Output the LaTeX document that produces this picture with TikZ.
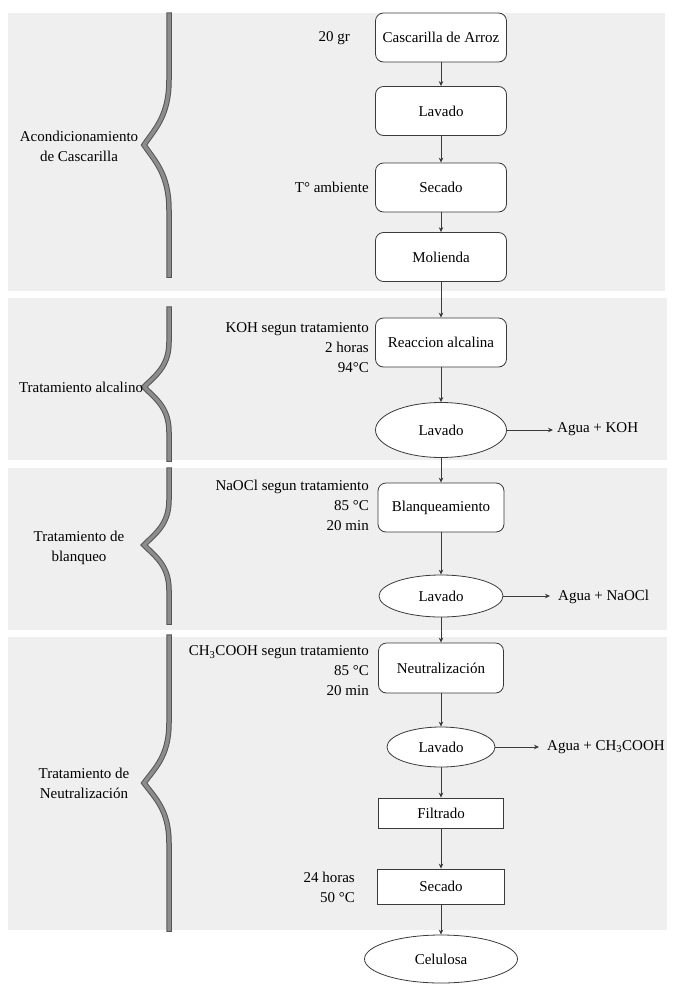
\documentclass[tikz,border=0pt]{standalone}
\usepackage{fontspec}
\setmainfont{Liberation Serif}
\usetikzlibrary{shapes.geometric,arrows.meta}
\definecolor{panelgray}{HTML}{EFEFEF}
\definecolor{bracegray}{HTML}{8C8C8C}
\definecolor{braceedge}{HTML}{555555}
\definecolor{edgegray}{HTML}{3A3A3A}
% top, tip, bottom, bend length
\newcommand{\stagebrace}[4]{%
  \foreach \w/\c in {5.5/braceedge,3.5/bracegray}
    \draw[line width=\w bp, color=\c, line cap=rect]
      (169,#1) -- (169,{#2-#4}) .. controls (169,{#2-0.45*#4}) and (155,{#2-0.25*#4}) .. (144,#2)
      .. controls (155,{#2+0.25*#4}) and (169,{#2+0.45*#4}) .. (169,{#2+#4}) -- (169,#3);
}
\begin{document}
\begin{tikzpicture}[x=1bp,y=-1bp,
  font=\fontsize{15bp}{20bp}\selectfont,
  >={Stealth[length=5bp,width=4.5bp]},
  stepbox/.style={draw=edgegray, line width=0.8bp, fill=white, rounded corners=8bp, minimum width=131bp, minimum height=49bp, inner sep=0},
  washnode/.style={ellipse, draw=edgegray, line width=0.8bp, fill=white, inner sep=0},
  plainbox/.style={draw=edgegray, line width=0.8bp, fill=white, minimum width=125bp, inner sep=0},
  note/.style={align=right, anchor=east, inner sep=0},
  phase/.style={align=center, inner sep=0},
  outlet/.style={anchor=west, inner sep=0},
  flow/.style={->, draw=edgegray, line width=0.8bp}]
\useasboundingbox (0,0) rectangle (673,984);
% stage panels
\fill[panelgray] (8,13) rectangle (665,291);
\fill[panelgray] (8,298) rectangle (667,460);
\fill[panelgray] (8,468) rectangle (667,630);
\fill[panelgray] (8,637) rectangle (667,930);
\stagebrace{15}{145}{275}{65}
\stagebrace{309}{387}{459}{45}
\stagebrace{470}{545}{622}{45}
\stagebrace{637}{783}{929}{60}
\node[phase] (ph1) at (79,146) {Acondicionamiento\\de Cascarilla};
\node[phase] (ph2) at (81,387) {Tratamiento alcalino};
\node[phase] (ph3) at (79,548) {Tratamiento de\\blanqueo};
\node[phase] (ph4) at (84,783) {Tratamiento de\\Neutralización};
% process steps
\node[stepbox] (cas) at (441,37.5) {Cascarilla de Arroz};
\node[stepbox] (lav1) at (441,111) {Lavado};
\node[stepbox] (sec1) at (441,187.5) {Secado};
\node[stepbox] (mol) at (441,257) {Molienda};
\node[stepbox] (rea) at (441,342.5) {Reaccion alcalina};
\node[washnode, minimum width=131bp, minimum height=55bp] (lav2) at (441,430) {Lavado};
\node[stepbox, minimum width=126bp] (bla) at (441,507.5) {Blanqueamiento};
\node[washnode, minimum width=124bp, minimum height=42bp] (lav3) at (441,596) {Lavado};
\node[stepbox, minimum width=125bp, minimum height=50bp] (neu) at (441,668) {Neutralización};
\node[washnode, minimum width=108bp, minimum height=40bp] (lav4) at (441,747) {Lavado};
\node[plainbox, minimum height=30bp] (fil) at (441,813) {Filtrado};
\node[plainbox, minimum width=127bp, minimum height=35bp] (sec2) at (441,886.5) {Secado};
\node[washnode, minimum width=153bp, minimum height=48bp] (cel) at (441,959) {Celulosa};
% conditions
\node[note] (n20) at (350,38) {20 gr};
\node[note] (ntemp) at (369,187) {T° ambiente};
\node[note] (nkoh) at (369,348) {KOH segun tratamiento\\2 horas\\94°C};
\node[note] (nnaocl) at (369,505) {NaOCl segun tratamiento\\85 °C\\20 min};
\node[note] (nacid) at (369,671) {CH\textsubscript{3}COOH segun tratamiento\\85 °C\\20 min};
\node[note] (nsec) at (355,887) {24 horas\\50 °C};
% outlets
\node[outlet] (out1) at (557,429) {Agua + KOH};
\node[outlet] (out2) at (558,597) {Agua + NaOCl};
\node[outlet] (out3) at (547,747) {Agua + CH\textsubscript{3}COOH};
\draw[flow] (cas) -- (lav1);
\draw[flow] (lav1) -- (sec1);
\draw[flow] (sec1) -- (mol);
\draw[flow] (mol) -- (rea);
\draw[flow] (rea) -- (lav2);
\draw[flow] (lav2) -- (bla);
\draw[flow] (bla) -- (lav3);
\draw[flow] (lav3) -- (neu);
\draw[flow] (neu) -- (lav4);
\draw[flow] (lav4) -- (fil);
\draw[flow] (fil) -- (sec2);
\draw[flow] (sec2) -- (cel);
\draw[flow, shorten >=4bp] (lav2.east) -- (lav2.east -| out1.west);
\draw[flow, shorten >=8bp] (lav3.east) -- (lav3.east -| out2.west);
\draw[flow, shorten >=8bp] (lav4.east) -- (lav4.east -| out3.west);
\end{tikzpicture}
\end{document}
